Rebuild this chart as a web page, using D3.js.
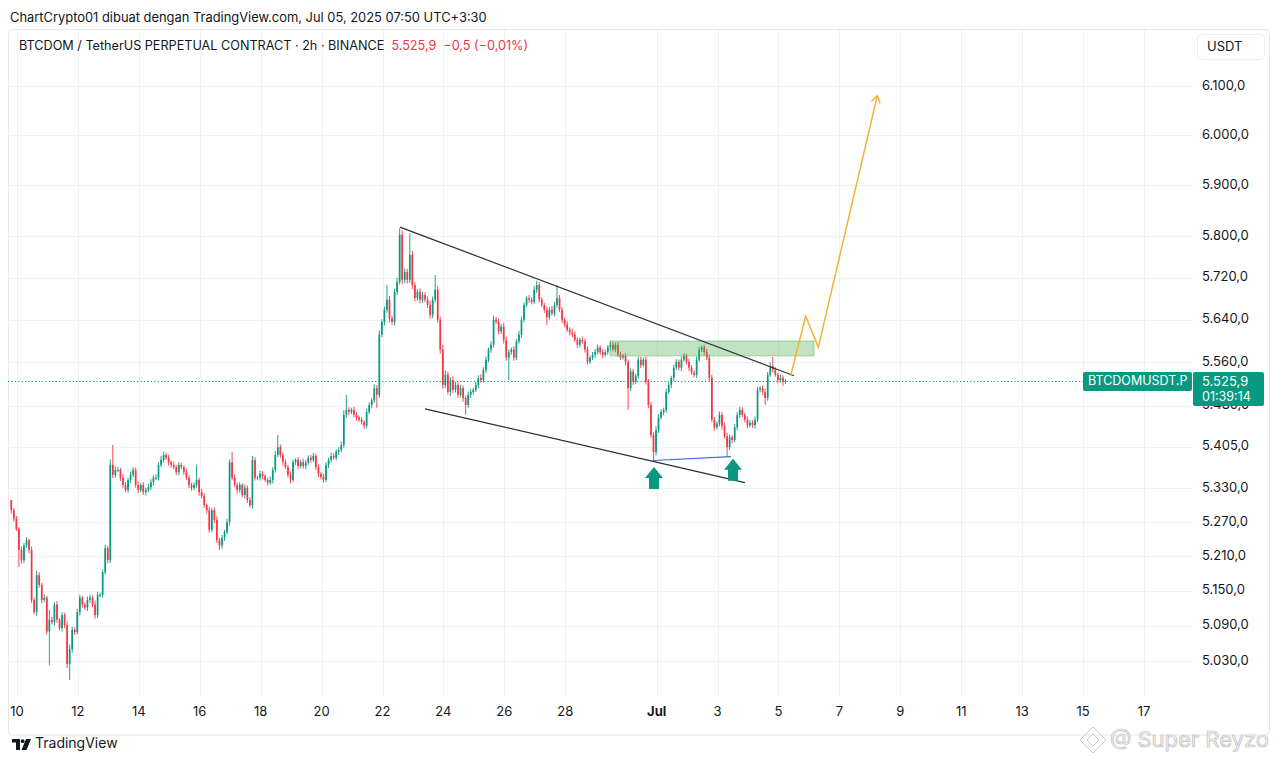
<!DOCTYPE html>
<html><head><meta charset="utf-8">
<script src="https://cdn.jsdelivr.net/npm/d3@7"></script>
<style>
html,body{margin:0;padding:0;background:#fff;}
svg{display:block;font-family:Inter,"Noto Sans",sans-serif;}
</style></head><body>
<svg id="chart" width="1280" height="764"></svg>
<script>
// ---------------- DATA ----------------
const candleStart = "2025-06-09T19:30"; // first 2h candle (chart time, UTC+3:30)
const candleHours = 2;
const firstOpen = 5309;
const closes = [
 5291,5276,5258,5221,5203,5229,5238,5221,5134,5113,5177,5160,
 5134,5138,5080,5100,5096,5126,5100,5086,5108,5091,5025,5050,
 5083,5079,5113,5138,5126,5121,5134,5138,5126,5108,5143,5143,
 5182,5224,5203,5372,5354,5363,5363,5349,5336,5327,5345,5354,
 5363,5336,5327,5336,5323,5327,5332,5341,5349,5349,5372,5381,
 5390,5385,5377,5372,5368,5359,5372,5368,5359,5349,5336,5331,
 5336,5345,5323,5316,5300,5291,5256,5291,5274,5238,5229,5242,
 5252,5270,5377,5349,5336,5327,5336,5318,5331,5309,5300,5381,
 5349,5349,5356,5352,5345,5340,5345,5363,5390,5404,5390,5377,
 5368,5354,5345,5377,5381,5370,5377,5370,5376,5385,5381,5388,
 5368,5356,5350,5345,5372,5381,5388,5385,5396,5399,5408,5463,
 5472,5468,5472,5463,5458,5454,5450,5443,5468,5481,5490,5512,
 5500,5612,5636,5659,5678,5643,5636,5693,5712,5803,5716,5731,
 5716,5764,5706,5681,5693,5678,5687,5678,5668,5649,5678,5697,
 5640,5584,5518,5537,5505,5527,5509,5518,5500,5512,5494,5481,
 5500,5505,5509,5518,5531,5527,5546,5565,5584,5593,5640,5636,
 5618,5627,5602,5569,5579,5584,5569,5599,5612,5640,5668,5681,
 5678,5674,5697,5706,5678,5668,5659,5645,5659,5652,5668,5681,
 5659,5640,5631,5621,5616,5612,5602,5593,5602,5599,5584,5561,
 5569,5574,5579,5588,5579,5574,5579,5588,5593,5584,5593,5574,
 5569,5572,5561,5512,5543,5524,5535,5565,5555,5565,5524,5481,
 5426,5395,5435,5458,5468,5472,5505,5518,5531,5550,5561,5550,
 5565,5572,5561,5550,5541,5537,5565,5584,5588,5579,5569,5531,
 5454,5440,5447,5463,5442,5424,5404,5422,5417,5440,5463,5472,
 5463,5454,5444,5449,5444,5454,5509,5512,5505,5494,5537,5553,
 5546,5537,5527,5531,5524,5525.9
];
const wickUp = [
 0,4,5,3,6,4,5,3,6,4,8,5,
 4,6,3,17,5,4,6,3,5,4,6,8,
 5,4,6,5,3,4,6,5,4,7,5,4,
 5,6,4,10,36,6,5,4,7,5,4,6,
 5,4,6,3,5,4,6,5,4,6,5,7,
 6,4,5,3,6,4,5,4,3,6,5,4,
 5,27,4,6,5,3,6,4,5,6,4,5,
 4,6,5,18,6,4,5,3,6,4,5,7,
 5,4,6,5,3,4,6,5,7,22,5,4,
 5,4,6,5,3,5,4,6,5,4,5,6,
 4,5,3,6,5,4,6,5,4,5,6,8,
 28,5,4,6,5,4,5,3,6,5,4,7,
 6,8,5,6,28,7,5,6,8,13,9,7,
 6,42,8,6,5,7,6,5,6,8,6,28,
 7,6,9,8,6,5,7,6,5,6,5,4,
 6,5,4,6,5,7,5,6,4,6,8,5,
 6,5,7,6,5,4,6,5,7,6,5,4,
 6,5,7,8,6,5,4,6,5,7,6,25,
 6,5,4,6,5,7,6,5,4,6,5,6,
 4,5,6,5,4,6,5,4,6,5,4,5,
 6,4,5,4,6,5,4,6,5,4,6,5,
 6,5,7,6,5,4,6,5,4,6,5,4,
 6,5,4,6,5,4,6,5,4,5,6,5,
 6,5,4,6,5,7,6,5,4,6,5,6,
 5,4,6,5,4,6,5,4,5,6,5,7,
 17,5,4,6,5,3
];
const wickDn = [
 6,5,4,30,6,5,4,6,5,4,6,5,
 6,4,5,57,4,6,5,4,6,5,7,27,
 6,5,4,6,5,4,6,5,4,6,5,4,
 5,4,6,5,6,5,4,6,5,4,5,6,
 4,5,6,4,5,6,4,5,6,4,5,4,
 5,4,6,5,4,5,6,4,5,4,6,5,
 4,5,6,4,5,6,5,4,6,5,8,6,
 5,4,6,5,4,6,5,4,6,5,4,6,
 5,4,5,6,4,5,4,6,5,4,5,6,
 4,5,6,4,5,6,4,5,6,4,5,4,
 5,6,4,5,4,6,5,4,5,6,4,5,
 6,5,4,5,6,4,5,6,5,4,6,5,
 24,6,5,7,6,8,6,7,6,5,8,6,
 7,6,8,6,5,7,6,5,6,7,6,5,
 6,8,7,6,5,7,6,5,6,5,7,18,
 5,6,5,4,6,5,4,6,5,6,5,4,
 6,5,7,6,42,5,6,5,4,6,5,4,
 6,5,4,6,5,4,6,15,5,4,6,5,
 4,6,5,4,6,5,4,6,5,4,6,5,
 4,5,6,4,5,6,4,5,6,4,5,4,
 5,4,6,40,5,6,4,5,6,4,5,6,
 5,16,6,5,4,6,5,4,6,5,4,5,
 6,4,5,6,4,5,6,4,5,6,5,6,
 5,6,4,5,6,4,17,5,6,4,5,6,
 4,5,6,4,5,6,4,5,6,13,5,4,
 5,4,6,5,8,4
];
const priceTicks = [6100,6000,5900,5800,5720,5640,5560,5480,5405,5330,5270,5210,5150,5090,5030];
const timeTicks = ["2025-06-10","2025-06-12","2025-06-14","2025-06-16","2025-06-18","2025-06-20","2025-06-22","2025-06-24","2025-06-26","2025-06-28","2025-07-01","2025-07-03","2025-07-05","2025-07-07","2025-07-09","2025-07-11","2025-07-13","2025-07-15","2025-07-17"];
const timeTickLabels = ["10","12","14","16","18","20","22","24","26","28","Jul","3","5","7","9","11","13","15","17"];
const upperTrend = [["2025-06-22T13:46",5818],["2025-07-05T12:13",5535]];
const lowerTrend = [["2025-06-23T09:28",5474],["2025-07-03T21:36",5340]];
const bottomLine = [["2025-06-30T21:20",5380],["2025-07-03T10:34",5387]];
const resistZone = [["2025-06-29T11:14",5600],["2025-07-06T04:00",5572]];
const projection = [["2025-07-05T09:36",5535],["2025-07-05T21:26",5647],["2025-07-06T07:22",5588],["2025-07-08T05:51",6080]];
const arrowTips = [["2025-06-30T21:54",5368],["2025-07-03T12:09",5383]];
const lastPrice = 5525.9;
const lastChange = "−0,5 (−0,01%)";
const countdown = "01:39:14";

// ---------------- CHART ----------------
const svg = d3.select("#chart");
const W = 1280, H = 764;
const plot = {left: 8, top: 30, right: 1193, bottom: 697};
const GREEN = "#089981", RED = "#f23645", TEXT = "#131722", GRID = "#f0f1f4";

const parseT = d3.utcParse("%Y-%m-%dT%H:%M");
const parseD = d3.utcParse("%Y-%m-%d");
const x = d3.scaleUtc().domain([parseD("2025-06-10"), parseD("2025-07-17")]).range([17, 1144]);
const y = d3.scaleLog().domain([5030, 6100]).range([661, 86]);
const loc = d3.formatLocale({decimal: ",", thousands: ".", grouping: [3], currency: ["", ""]});
const fmt = loc.format(",.1f");

svg.append("rect").attr("width", W).attr("height", H).attr("fill", "#fff");

// header
svg.append("text").attr("x", 10).attr("y", 18).attr("dominant-baseline", "middle")
  .attr("font-size", 12.9).attr("fill", TEXT)
  .text("ChartCrypto01 dibuat dengan TradingView.com, Jul 05, 2025 07:50 UTC+3:30");

// frame
svg.append("rect").attr("x", 8.5).attr("y", 29.5).attr("width", 1261).attr("height", 705.5)
  .attr("fill", "none").attr("stroke", "#e6e8ee").attr("rx", 4);

// clip
svg.append("defs").append("clipPath").attr("id", "pc").append("rect")
  .attr("x", plot.left).attr("y", plot.top).attr("width", plot.right - plot.left).attr("height", plot.bottom - plot.top);

// grid
const grid = svg.append("g");
grid.selectAll("line.h").data(priceTicks).join("line")
  .attr("x1", plot.left).attr("x2", plot.right)
  .attr("y1", d => Math.round(y(d)) + 0.5).attr("y2", d => Math.round(y(d)) + 0.5)
  .attr("stroke", GRID);
grid.selectAll("line.v").data(timeTicks).join("line")
  .attr("x1", d => Math.round(x(parseD(d))) + 0.5).attr("x2", d => Math.round(x(parseD(d))) + 0.5)
  .attr("y1", plot.top).attr("y2", plot.bottom)
  .attr("stroke", GRID);

// title
const title = svg.append("text").attr("x", 19).attr("y", 47).attr("dominant-baseline", "middle")
  .attr("font-size", 12.65).attr("fill", TEXT);
title.append("tspan").text("BTCDOM / TetherUS PERPETUAL CONTRACT · 2h · BINANCE");
title.append("tspan").attr("dx", 7).attr("fill", RED).text(fmt(lastPrice));
title.append("tspan").attr("dx", 7).attr("fill", RED).text(lastChange);

// candles
const t0 = parseT(candleStart).getTime();
let prev = firstOpen;
const candles = closes.map((c, i) => {
  const o = prev; prev = c;
  return {t: new Date(t0 + i * candleHours * 3600e3), o, c,
          h: Math.max(o, c) + wickUp[i], l: Math.min(o, c) - wickDn[i]};
});
const cg = svg.append("g").attr("clip-path", "url(#pc)");
const bw = 1.7;
cg.selectAll("line.w").data(candles).join("line")
  .attr("x1", d => x(d.t)).attr("x2", d => x(d.t))
  .attr("y1", d => y(d.h)).attr("y2", d => y(d.l))
  .attr("stroke", d => d.c >= d.o ? GREEN : RED).attr("stroke-width", 0.9);
cg.selectAll("rect.b").data(candles).join("rect")
  .attr("x", d => x(d.t) - bw / 2).attr("width", bw)
  .attr("y", d => y(Math.max(d.o, d.c)))
  .attr("height", d => Math.max(1, y(Math.min(d.o, d.c)) - y(Math.max(d.o, d.c))))
  .attr("fill", d => d.c >= d.o ? GREEN : RED);

// drawings
const pt = d => [x(parseT(d[0])), y(d[1])];
const dg = svg.append("g").attr("clip-path", "url(#pc)");
dg.append("rect")
  .attr("x", pt(resistZone[0])[0]).attr("y", pt(resistZone[0])[1])
  .attr("width", pt(resistZone[1])[0] - pt(resistZone[0])[0])
  .attr("height", pt(resistZone[1])[1] - pt(resistZone[0])[1])
  .attr("fill", "rgba(76,175,80,0.35)").attr("stroke", "rgba(76,175,80,0.45)");
const line = d3.line().x(d => pt(d)[0]).y(d => pt(d)[1]);
dg.append("path").attr("d", line(upperTrend)).attr("fill", "none").attr("stroke", "#2a2e39").attr("stroke-width", 1.2);
dg.append("path").attr("d", line(lowerTrend)).attr("fill", "none").attr("stroke", "#2a2e39").attr("stroke-width", 1.2);
dg.append("path").attr("d", line(bottomLine)).attr("fill", "none").attr("stroke", "#3a6fd8").attr("stroke-width", 1.1);
dg.append("path").attr("d", line(projection)).attr("fill", "none").attr("stroke", "#f2b138").attr("stroke-width", 1.5)
  .attr("stroke-linejoin", "miter");
// projection arrow head
{
  const a = pt(projection[projection.length - 2]), b = pt(projection[projection.length - 1]);
  const ang = Math.atan2(b[1] - a[1], b[0] - a[0]);
  const L = 8, s = 0.6;
  const p1 = [b[0] - L * Math.cos(ang - s), b[1] - L * Math.sin(ang - s)];
  const p2 = [b[0] - L * Math.cos(ang + s), b[1] - L * Math.sin(ang + s)];
  dg.append("path").attr("d", `M${p1}L${b}L${p2}`).attr("fill", "none")
    .attr("stroke", "#f2b138").attr("stroke-width", 1.5);
}
// green up arrows
arrowTips.forEach(d => {
  const [ax, ay] = pt(d);
  const pts = [[ax, ay], [ax + 9, ay + 11], [ax + 5, ay + 11], [ax + 5, ay + 22], [ax - 5, ay + 22], [ax - 5, ay + 11], [ax - 9, ay + 11]];
  dg.append("polygon").attr("points", pts.map(p => p.join(",")).join(" ")).attr("fill", GREEN);
});

// last price dotted line
const yl = Math.round(y(lastPrice)) + 0.5;
svg.append("line").attr("x1", plot.left).attr("x2", 1083).attr("y1", yl).attr("y2", yl)
  .attr("stroke", GREEN).attr("stroke-width", 1.2).attr("stroke-dasharray", "1.2,2.2");

// price axis
svg.selectAll("text.pl").data(priceTicks).join("text")
  .attr("x", 1202).attr("y", d => y(d)).attr("dominant-baseline", "middle")
  .attr("font-size", 13).attr("fill", TEXT).text(d => fmt(d));
svg.append("rect").attr("x", 1197.5).attr("y", 34.5).attr("width", 67).attr("height", 25).attr("rx", 4)
  .attr("fill", "#fff").attr("stroke", "#eceef2");
svg.append("text").attr("x", 1207).attr("y", 47).attr("dominant-baseline", "middle")
  .attr("font-size", 13).attr("fill", TEXT).text("USDT");

// last price labels
svg.append("rect").attr("x", 1083).attr("y", yl - 9.5).attr("width", 109).attr("height", 19).attr("rx", 2).attr("fill", GREEN);
svg.append("text").attr("x", 1088).attr("y", yl).attr("dominant-baseline", "middle")
  .attr("font-size", 12.5).attr("fill", "#fff").text("BTCDOMUSDT.P");
svg.append("rect").attr("x", 1193).attr("y", yl - 9.5).attr("width", 71).attr("height", 34).attr("rx", 2).attr("fill", GREEN);
svg.append("text").attr("x", 1202).attr("y", yl + 0.5).attr("dominant-baseline", "middle")
  .attr("font-size", 13).attr("fill", "#fff").text(fmt(lastPrice));
svg.append("text").attr("x", 1202).attr("y", yl + 16).attr("dominant-baseline", "middle")
  .attr("font-size", 12.5).attr("fill", "#fff").text(countdown);

// time axis
svg.selectAll("text.tl").data(timeTicks).join("text")
  .attr("x", d => x(parseD(d))).attr("y", 712).attr("dominant-baseline", "middle")
  .attr("text-anchor", "middle").attr("font-size", 13).attr("fill", TEXT)
  .attr("font-weight", (d, i) => timeTickLabels[i] === "Jul" ? 700 : 400)
  .text((d, i) => timeTickLabels[i]);

// TradingView logo
const lg = svg.append("g").attr("fill", TEXT);
lg.append("path").attr("d", "M12,739 H20 V750 H16 V742.5 H12 Z");
lg.append("circle").attr("cx", 22.6).attr("cy", 741.2).attr("r", 1.9);
lg.append("path").attr("d", "M26,739 H31 L26.5,750 H21.5 Z");
svg.append("text").attr("x", 35).attr("y", 744.5).attr("dominant-baseline", "middle")
  .attr("font-size", 14).attr("fill", TEXT).text("TradingView");

// watermark
const wm = svg.append("g").attr("fill", "none").attr("stroke", "#c9c9c9").attr("stroke-width", 1);
wm.append("path").attr("d", "M1093,727 L1106,740 L1093,753 L1080,740 Z");
wm.append("path").attr("d", "M1093,734 L1099,740 L1093,746 L1087,740 Z");
svg.append("text").attr("x", 1110).attr("y", 741).attr("dominant-baseline", "middle")
  .attr("font-size", 22).attr("fill", "#f4f4f4").attr("stroke", "#bdbdbd").attr("stroke-width", 0.7)
  .text("@ Super Reyzo");
</script>
</body></html>
